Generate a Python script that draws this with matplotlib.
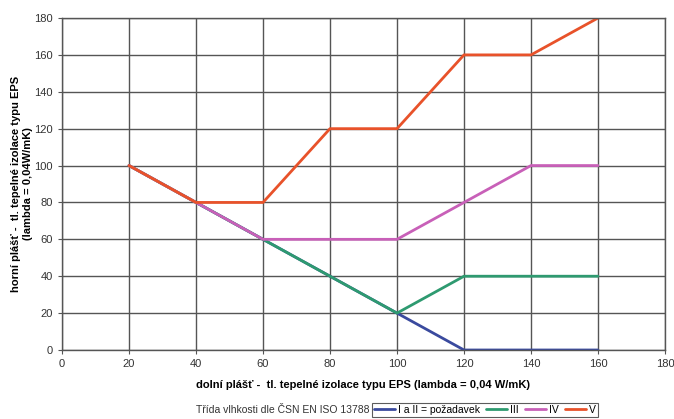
import matplotlib
matplotlib.use("Agg")
import matplotlib.pyplot as plt

plt.rcParams['font.family'] = ['Liberation Sans', 'DejaVu Sans']

x = [20, 40, 60, 80, 100, 120, 140, 160]
s_I_II = [100, 80, 60, 40, 20, 0, 0, 0]
s_III = [100, 80, 60, 40, 20, 40, 40, 40]
s_IV = [100, 80, 60, 60, 60, 80, 100, 100]
s_V = [100, 80, 80, 120, 120, 160, 160, 180]
labels = ["I a II = požadavek", "III", "IV", "V"]
colors = ["#3a4a9e", "#2e9a70", "#c860b8", "#e8522a"]
ticks = list(range(0, 181, 20))

fig = plt.figure(figsize=(6.74, 4.19), dpi=100)
ax = fig.add_axes([62/674, 1-350/419, (665-62)/674, (350-18)/419])

handles = []
for ys, c, lab in zip([s_I_II, s_III, s_IV, s_V], colors, labels):
    h, = ax.plot(x, ys, color=c, lw=2.0, label=lab, solid_capstyle='round')
    handles.append(h)

ax.set_xlim(0, 180)
ax.set_ylim(0, 180)
ax.set_xticks(ticks)
ax.set_yticks(ticks)
ax.grid(True, color="#555555", lw=1.0)
ax.set_axisbelow(True)
for sp in ax.spines.values():
    sp.set_color("#555555")
    sp.set_linewidth(1.0)
ax.tick_params(labelsize=8, colors="#333333", length=3, color="#555555")

ax.set_xlabel("dolní plášť -  tl. tepelné izolace typu EPS (lambda = 0,04 W/mK)",
              fontsize=8, fontweight='bold', labelpad=8)
ax.set_ylabel("horní plášť -  tl. tepelné izolace typu EPS\n(lambda = 0,04W/mK)",
              fontsize=8, fontweight='bold', labelpad=1)

fig.text(370/674, 1-410/419, "Třída vlhkosti dle ČSN EN ISO 13788",
         fontsize=7.5, ha='right', va='center', color="#333333")
leg = fig.legend(handles=handles, loc='center left', bbox_to_anchor=(372/674, 1-410/419),
                 ncol=4, fontsize=7.5, frameon=True, fancybox=False, edgecolor="#333333",
                 handlelength=2.0, handletextpad=0.3, columnspacing=0.6,
                 borderpad=0.2, borderaxespad=0)
leg.get_frame().set_linewidth(0.8)

fig.savefig("out.png", dpi=100)
